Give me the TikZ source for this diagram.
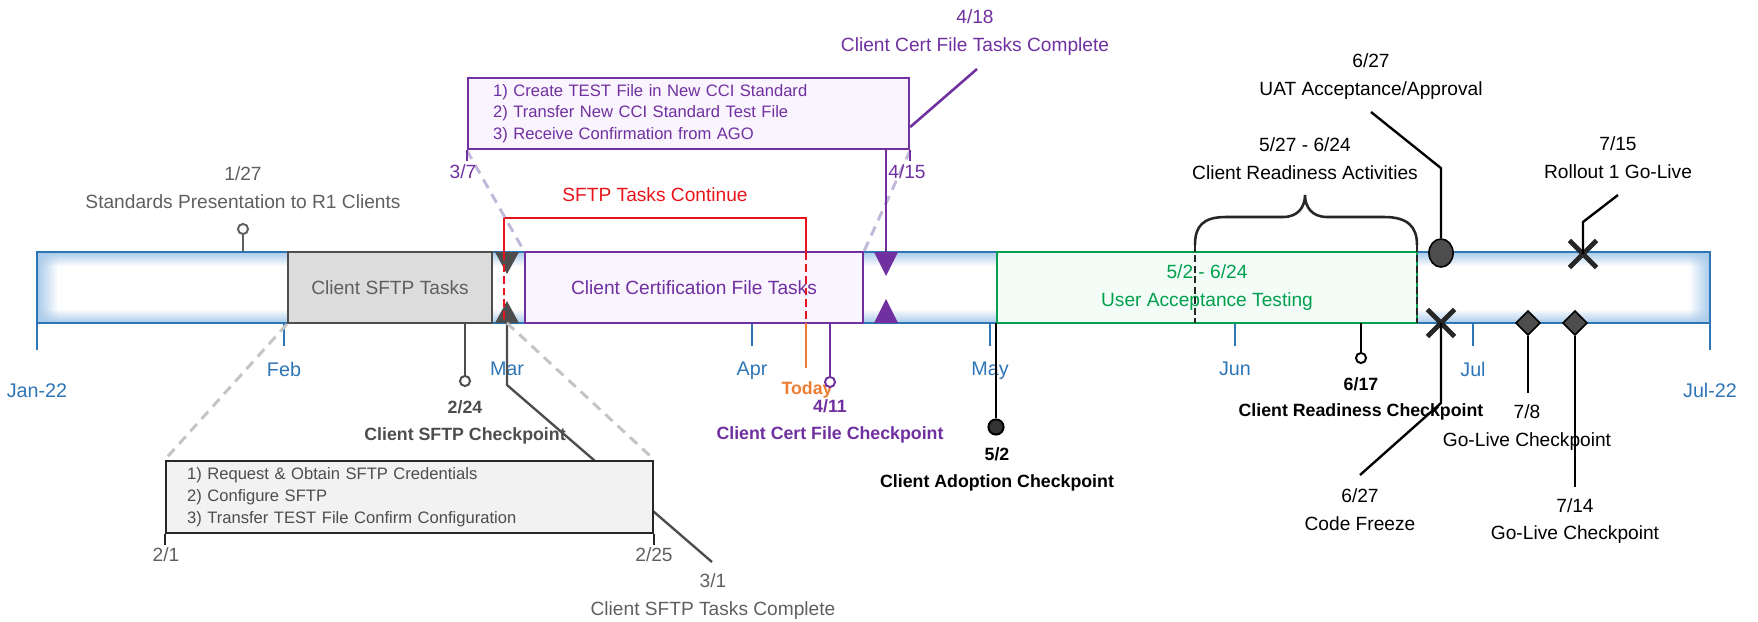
\documentclass[tikz,border=0pt]{standalone}
\usepackage{fontspec}
\setmainfont{Liberation Sans}
\usetikzlibrary{positioning, shapes.geometric, shapes.misc, fadings}

\definecolor{axisblue}{HTML}{2E75B6}
\definecolor{glowblue}{HTML}{A8CAEA}
\definecolor{txtgray}{HTML}{5F5F5F}
\definecolor{markgray}{HTML}{4D4D4D}
\definecolor{sftpfill}{HTML}{DCDCDC}
\definecolor{sftpred}{HTML}{E8141B}
\definecolor{certpurple}{HTML}{7030A0}
\definecolor{certfill}{HTML}{F9F4FD}
\definecolor{uatgreen}{HTML}{00A04E}
\definecolor{uatfill}{HTML}{F4FCF7}
\definecolor{todayorange}{HTML}{ED7D31}
\definecolor{zoomgray}{HTML}{C4C4C4}
\definecolor{zoompurple}{HTML}{C2B8DA}
\definecolor{listfill}{HTML}{F2F2F2}

% soft blue edges, white middle
\pgfdeclareverticalshading{barglow}{100bp}{color(0bp)=(glowblue); color(25bp)=(glowblue); color(35bp)=(white); color(65bp)=(white); color(75bp)=(glowblue); color(100bp)=(glowblue)}

\tikzset{
    monthtick/.style={axisblue, line width=1.3pt},
    monthlbl/.style={text=axisblue, font=\fontsize{10}{12}\selectfont},
    datelbl/.style={align=center, font=\fontsize{9.7}{14}\selectfont},
    checklbl/.style={align=center, font=\fontsize{9}{13.5}\selectfont\bfseries},
    leader/.style={line width=1.2pt},
    pinhead/.style={circle, draw, fill=white, line width=1pt, minimum size=0.18cm, inner sep=0pt},
    taskbox/.style={rectangle, draw, line width=1.3pt, minimum height=1.264cm, inner sep=0pt, align=center, font=\fontsize{9.7}{14}\selectfont},
    listbox/.style={rectangle, draw, line width=1.3pt, align=left, inner ysep=0pt, font=\fontsize{8.4}{11}\selectfont},
    zoomline/.style={line width=1.5pt, dash pattern=on 5pt off 3.5pt},
    xmark/.style={cross out, draw=black!85, line width=2.4pt, minimum size=0.4cm, inner sep=0pt},
    gomark/.style={diamond, draw=black, fill=markgray, line width=0.8pt, minimum width=0.44cm, minimum height=0.44cm, inner sep=0pt}
}

\begin{document}
\begin{tikzpicture}[x=0.0178cm, y=-0.0178cm]
    \useasboundingbox (0,0) rectangle (1758,621);

    % Timeline bar
    \coordinate (barTL) at (37,252);
    \coordinate (barBR) at (1710,323);
    \shade[shading=barglow] (barTL) rectangle (barBR);
    \fill[glowblue, path fading=east] (barTL) rectangle (58,323);
    \fill[glowblue, path fading=west] (1689,252) rectangle (barBR);
    \draw[axisblue, line width=1.5pt] (barTL) rectangle (barBR);

    % Months
    \foreach \x/\m in {284/Feb, 507/Mar, 752/Apr, 990/May, 1235/Jun, 1473/Jul}
        \draw[monthtick] (\x,323) -- (\x,346) node[monthlbl, below=4pt] (mon\m) {\m};
    \foreach \x/\m in {37/Jan-22, 1710/Jul-22}
        \draw[monthtick] (\x,323) -- (\x,350) node[monthlbl, below=13pt] (mon\m) {\m};

    % Tasks on the bar
    \node (sftp) [taskbox, draw=markgray, fill=sftpfill, text=txtgray, minimum width=3.631cm] at (390,287.5) {Client SFTP Tasks};
    \node (cert) [taskbox, draw=certpurple, fill=certfill, text=certpurple, minimum width=6.016cm] at (694,287.5) {Client Certification File Tasks};
    \node (uat) [taskbox, draw=uatgreen, fill=uatfill, text=uatgreen, minimum width=7.476cm] at (1207,287.5) {5/2 - 6/24\\User Acceptance Testing};

    % Hand-off markers
    \coordinate (sftpdone) at (507,323);
    \coordinate (certdone) at (886,252);
    \fill[markgray] (495,252) -- (519,252) -- (507,274) -- cycle;
    \fill[markgray] (495,323) -- (519,323) -- (507,301) -- cycle;
    \fill[certpurple] (874,252) -- (898,252) -- (886,276) -- cycle;
    \fill[certpurple] (874,323) -- (898,323) -- (886,299) -- cycle;

    % SFTP work carried on
    \coordinate (contA) at (504,218);
    \coordinate (contB) at (806,218);
    \coordinate (todayTip) at (806,368);
    \draw[sftpred, line width=1.3pt] (504,252) -- (contA) -- (contB) -- (806,252);
    \draw[sftpred, line width=1.3pt, dash pattern=on 4pt off 2pt] (504,252) -- (504,323) (806,252) -- (806,323);
    \node (contlbl) [datelbl, text=sftpred] at (655,195) {SFTP Tasks Continue};
    \draw[todayorange, line width=1.3pt] (806,323) -- (todayTip);
    \node (today) [checklbl, text=todayorange] at (807,390) {Today};

    % Client readiness window
    \draw[line width=1.3pt, black!85] (1195,245) .. controls (1195,226) and (1203,217) .. (1226,217) -- (1283,217) .. controls (1298,217) and (1305,207) .. (1305,195) .. controls (1305,207) and (1312,217) .. (1327,217) -- (1384,217) .. controls (1407,217) and (1417,226) .. (1417,245);
    \draw[line width=1.3pt, black!85, dash pattern=on 3.5pt off 1.8pt] (1195,245) -- (1195,323) (1417,245) -- (1417,323);
    \node (readylbl) [datelbl] at (1305,158.5) {5/27 - 6/24\\Client Readiness Activities};

    % Checkpoints
    \node (p127) [pinhead, draw=txtgray] at (243,229) {};
    \draw[leader, txtgray] (p127.south) -- (p127 |- barTL);
    \node (l127) [datelbl, text=txtgray] at (243,187.5) {1/27\\Standards Presentation to R1 Clients};

    \node (p224) [pinhead, draw=markgray] at (465,381) {};
    \draw[leader, markgray] (p224 |- barBR) -- (p224.north);
    \node (l224) [checklbl, text=markgray] at (465,422.5) {2/24\\Client SFTP Checkpoint};

    \node (p411) [pinhead, draw=certpurple] at (830,382) {};
    \draw[leader, certpurple] (p411 |- barBR) -- (p411.north);
    \node (l411) [checklbl, text=certpurple] at (830,421.5) {4/11\\Client Cert File Checkpoint};

    \node (p52) [pinhead, fill=black!80, draw=black, minimum size=0.27cm] at (996,427) {};
    \draw[leader, black] (p52 |- barBR) -- (p52.north);
    \node (l52) [checklbl] at (997,469.5) {5/2\\Client Adoption Checkpoint};

    \node (p617) [pinhead, draw=black] at (1361,358) {};
    \draw[leader] (p617 |- barBR) -- (p617.north);
    \node (l617) [checklbl] at (1361,399) {6/17\\Client Readiness Checkpoint};

    % Go-live milestones
    \coordinate (uatTip) at (1371,112);
    \coordinate (freezeTip) at (1360,475);
    \coordinate (rolloutTip) at (1618,195);
    \node (uatok) [ellipse, draw=black, fill=markgray, line width=0.8pt, minimum width=0.43cm, minimum height=0.5cm, inner sep=0pt] at (1441,253) {};
    \draw[leader] (uatok.north) -- ++(0,-70) -- (uatTip);
    \node (freeze) [xmark] at (1441,323) {};
    \draw[leader] (freeze.center) -- ++(0,80) -- (freezeTip);
    \node (golive) [xmark] at (1583,254) {};
    \draw[leader] (golive.center) -- ++(0,-32) -- (rolloutTip);
    \node (d78) [gomark] at (1528,323) {};
    \draw[leader] (d78.south) -- ++(0,57);
    \node (d714) [gomark] at (1575,323) {};
    \draw[leader] (d714.south) -- ++(0,151);

    \node (l627a) [datelbl] at (1371,76.5) {6/27\\UAT Acceptance/Approval};
    \node (l627b) [datelbl] at (1360,509.5) {6/27\\Code Freeze};
    \node (l715) [datelbl] at (1618,157.5) {7/15\\Rollout 1 Go-Live};
    \node (l78) [datelbl] at (1527,427.5) {7/8\\Go-Live Checkpoint};
    \node (l714) [datelbl] at (1575,521) {7/14\\Go-Live Checkpoint};

    % Client SFTP task detail
    \coordinate (sftpTip) at (712,562);
    \draw[leader, markgray] (sftpdone) -- ++(0,62) -- (sftpTip);
    \node (sftplist) [listbox, draw=black!85, fill=listfill, text=markgray, text width=7.921cm, inner xsep=0.374cm, minimum height=1.282cm] at (409.5,497) {1) Request \& Obtain SFTP Credentials\\2) Configure SFTP\\3) Transfer TEST File Confirm Configuration};
    \draw[zoomline, zoomgray] (sftp.south west) -- (sftplist.north west);
    \draw[zoomline, zoomgray] (sftpdone) -- (sftplist.north east);
    \draw[leader, black!85] (sftplist.south west) -- ++(0,11);
    \draw[leader, black!85] (sftplist.south east) -- ++(0,11);
    \node (l21) [datelbl, text=txtgray] at (166,555) {2/1};
    \node (l225) [datelbl, text=txtgray] at (654,555) {2/25};
    \node (l31) [datelbl, text=txtgray] at (713,596.5) {3/1\\Client SFTP Tasks Complete};

    % Client cert task detail
    \coordinate (certTip) at (977,69);
    \node (certlist) [listbox, draw=certpurple, fill=certfill, text=certpurple, text width=6.96cm, inner xsep=0.445cm, minimum height=1.264cm] at (688.5,113.5) {1) Create TEST File in New CCI Standard\\2) Transfer New CCI Standard Test File\\3) Receive Confirmation from AGO};
    \draw[zoomline, zoompurple] (certlist.south west) -- (cert.north west);
    \draw[zoomline, zoompurple] (certlist.south east) -- (cert.north east);
    \draw[certpurple, line width=1.3pt] (certlist.south west) -- ++(0,11);
    \draw[certpurple, line width=1.3pt] (certlist.south east) -- ++(0,11);
    \draw[certpurple, line width=1.3pt] (certdone |- certlist.south) -- (certdone);
    \draw[certpurple, line width=1.3pt] (certlist.east) ++(0,13.5) -- (certTip);
    \node (l37) [datelbl, text=certpurple] at (463,172) {3/7};
    \node (l415) [datelbl, text=certpurple] at (907,172) {4/15};
    \node (l418) [datelbl, text=certpurple] at (975,32.5) {4/18\\Client Cert File Tasks Complete};
\end{tikzpicture}
\end{document}
